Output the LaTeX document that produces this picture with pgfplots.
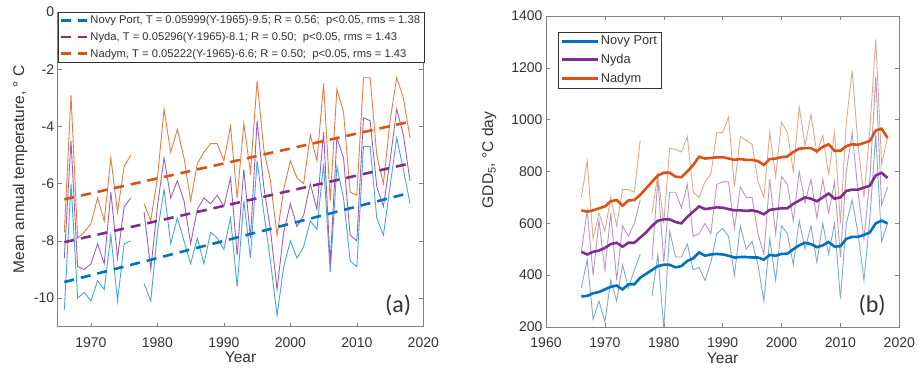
\documentclass[border=0pt]{standalone}
\usepackage{fontspec}
\setmainfont{Liberation Sans}
\newfontfamily\carlito{Carlito}
\usepackage{pgfplots}
\pgfplotsset{compat=1.18}
\usepackage{pgfplotstable}
\definecolor{mblue}{RGB}{0,114,189}
\definecolor{mpurple}{RGB}{126,47,142}
\definecolor{morange}{RGB}{217,83,25}
\definecolor{lblue}{RGB}{70,165,220}
\definecolor{lpurple}{RGB}{160,95,180}
\definecolor{lorange}{RGB}{230,125,65}
\definecolor{tblue}{RGB}{130,170,200}
\definecolor{tpurple}{RGB}{185,150,195}
\definecolor{torange}{RGB}{220,170,145}
\definecolor{axgray}{RGB}{130,130,130}
\definecolor{txgray}{RGB}{50,50,50}

\pgfplotstableread{
year np ny nd
1966 -10.4 -8.6 -7.7
1967 -6.0 -4.5 -2.9
1968 -10.0 -8.9 -7.9
1969 -9.8 -9.0 -7.7
1970 -10.1 -8.8 -7.4
1971 -9.4 -8.1 -6.5
1972 -9.7 -8.8 -7.3
1973 -7.8 -6.3 -5.1
1974 -10.1 -8.6 -7.0
1975 -8.1 -6.8 -5.4
1976 -8.0 -6.5 -5.0
1977 nan nan nan
1978 -9.5 -7.0 -6.7
1979 -10.1 -9.0 -7.3
1980 -7.7 -6.8 -5.8
1981 -6.2 -5.1 -3.4
1982 -8.1 -6.5 -4.9
1983 -7.2 -5.9 -4.1
1984 -8.0 -6.6 -5.1
1985 -8.8 -8.1 -6.6
1986 -7.9 -6.9 -5.3
1987 -8.8 -6.5 -4.9
1988 -7.7 -6.7 -4.6
1989 -7.9 -6.4 -4.6
1990 -8.3 -6.8 -5.2
1991 -7.2 -5.8 -4.0
1992 -9.6 -8.5 -6.5
1993 -6.6 -5.5 -3.9
1994 -8.6 -7.9 -5.6
1995 -5.2 -3.8 -2.4
1996 -7.0 -6.1 -4.8
1997 -8.7 -7.6 -5.9
1998 -10.6 -9.7 -7.8
1999 -8.9 -7.7 -6.2
2000 -8.0 -6.7 -5.2
2001 -8.6 -7.5 -5.8
2002 -8.2 -7.1 -6.0
2003 -7.3 -6.0 -4.3
2004 -7.6 -6.9 -5.2
2005 -5.3 -4.2 -2.5
2006 -9.1 -8.8 -6.6
2007 -5.4 -4.4 -2.7
2008 -6.5 -5.1 -3.5
2009 -8.7 -7.8 -6.3
2010 -8.9 -8.0 -6.4
2011 -4.7 -3.7 -2.3
2012 -4.7 -3.8 -2.3
2013 -7.2 -6.1 -5.0
2014 -7.8 -6.8 -6.0
2015 -6.1 -5.2 -3.8
2016 -4.4 -3.4 -2.3
2017 -5.5 -4.3 -3.0
2018 -6.7 -5.9 -4.4
}\lefttab

\pgfplotstableread{
year npt nyt ndt nps nys nds
1966 350 490 700 318 490 650
1967 460 650 840 320 480 645
1968 230 400 540 330 490 650
1969 300 610 640 335 495 658
1970 220 420 570 345 505 665
1971 380 640 700 355 520 685
1972 300 380 590 360 525 690
1973 440 590 730 345 510 668
1974 350 550 730 365 525 688
1975 420 600 720 365 525 690
1976 480 690 920 390 545 710
1977 nan nan nan 405 565 735
1978 320 460 640 420 590 760
1979 480 770 790 435 610 785
1980 195 450 600 440 615 795
1981 570 720 890 440 615 795
1982 470 720 885 430 605 780
1983 470 660 875 435 600 778
1984 520 750 935 455 625 800
1985 420 550 720 465 645 825
1986 430 560 700 488 665 857
1987 380 600 760 475 655 850
1988 450 560 790 480 658 852
1989 560 750 950 482 662 855
1990 580 760 950 480 660 855
1991 550 760 1010 475 655 850
1992 400 580 740 468 650 845
1993 590 740 935 470 650 848
1994 500 700 920 470 648 845
1995 530 700 905 468 650 845
1996 440 560 760 468 645 840
1997 300 480 700 460 635 825
1998 540 770 950 478 652 848
1999 380 560 780 475 655 850
2000 590 780 990 482 658 855
2001 560 750 950 483 658 858
2002 440 610 800 500 675 875
2003 610 800 1050 515 688 888
2004 500 680 900 525 700 890
2005 590 770 1020 520 695 890
2006 450 620 870 508 685 878
2007 600 770 940 515 700 895
2008 480 640 790 528 715 905
2009 600 760 950 510 695 880
2010 310 470 600 512 700 880
2011 600 800 990 540 725 898
2012 690 950 1190 548 730 905
2013 560 720 900 548 730 903
2014 380 540 700 555 738 910
2015 620 770 960 565 745 918
2016 940 1165 1310 600 785 958
2017 530 670 830 610 795 965
2018 600 740 930 600 775 930
}\righttab

\pgfplotsset{
  mystyle/.style={
    scale only axis,
    axis line style={axgray},
    tick style={axgray, line width=0.5pt},
    tick align=inside,
    major tick length=4pt,
    ticklabel style={font=\fontsize{14}{16}\selectfont, text=txgray},
    xticklabel style={yshift=-7pt},
    label style={font=\fontsize{15.5}{18}\selectfont, text=txgray},
    /pgf/number format/assume math mode=true,
    /pgf/number format/1000 sep={},
    unbounded coords=jump,
  }
}

\begin{document}
\begin{tikzpicture}
\path[use as bounding box] (0,0) rectangle (919pt,374pt);

\begin{axis}[mystyle,
  at={(57.7pt,47.3pt)}, anchor=south west,
  width=365.6pt, height=314.7pt,
  xmin=1965, xmax=2020, ymin=-11, ymax=0,
  xtick={1970,1980,...,2020}, ytick={-10,-8,...,0},
  xlabel={Year},
  ylabel={Mean annual temperature, ° C},
  xlabel style={at={(axis description cs:0.5,-0.1144)}, anchor=base},
  ylabel style={at={(axis description cs:-0.092,0.5)}, anchor=base},
  legend style={at={(0,1)}, anchor=north west, draw=txgray, fill=white,
    font=\fontsize{11.2}{13}\selectfont, text=txgray, row sep=3pt,
    inner xsep=2pt, inner ysep=1.5pt},
  legend cell align=left,
  legend image code/.code={\draw[#1] (0pt,0pt) -- (26pt,0pt);},
]
\addplot[lblue, line width=0.9pt, forget plot] table[x=year, y=np] {\lefttab};
\addplot[lpurple, line width=0.9pt, forget plot] table[x=year, y=ny] {\lefttab};
\addplot[lorange, line width=0.9pt, forget plot] table[x=year, y=nd] {\lefttab};

\addplot[mblue, line width=2.6pt, dash pattern=on 10pt off 7pt] coordinates {(1966,-9.440) (2018,-6.321)};
\addlegendentry{Novy Port, T = 0.05999(Y-1965)-9.5; R = 0.56;\ \ p<0.05, rms = 1.38}
\addplot[mpurple, line width=2.6pt, dash pattern=on 10pt off 7pt] coordinates {(1966,-8.047) (2018,-5.293)};
\addlegendentry{Nyda, T = 0.05296(Y-1965)-8.1; R = 0.50;\ \ p<0.05, rms = 1.43}
\addplot[morange, line width=2.6pt, dash pattern=on 10pt off 7pt] coordinates {(1966,-6.548) (2018,-3.832)};
\addlegendentry{Nadym, T = 0.05222(Y-1965)-6.6; R = 0.50;\ \ p<0.05, rms = 1.43}

\node[font=\carlito\fontsize{24}{26}\selectfont, text=txgray] at (rel axis cs:0.931,0.069) {(a)};
\end{axis}

\begin{axis}[mystyle,
  at={(546pt,47pt)}, anchor=south west,
  width=353.3pt, height=311pt,
  xmin=1960, xmax=2020, ymin=200, ymax=1400,
  xtick={1960,1970,...,2020}, ytick={200,400,...,1400},
  xlabel={Year},
  ylabel={GDD\textsubscript{5}, °C day},
  xlabel style={at={(axis description cs:0.5,-0.1158)}, anchor=base},
  ylabel style={at={(axis description cs:-0.150,0.537)}, anchor=base},
  legend style={at={(0.034,0.949)}, anchor=north west, draw=txgray, fill=white,
    font=\fontsize{12.8}{14}\selectfont, text=txgray, row sep=4pt,
    inner xsep=2pt, inner ysep=2pt},
  legend cell align=left,
  legend image code/.code={\draw[#1] (0pt,0pt) -- (36pt,0pt);},
]
\addplot[tblue, line width=0.9pt, forget plot] table[x=year, y=npt] {\righttab};
\addplot[tpurple, line width=0.9pt, forget plot] table[x=year, y=nyt] {\righttab};
\addplot[torange, line width=0.9pt, forget plot] table[x=year, y=ndt] {\righttab};

\addplot[mblue, line width=2.6pt] table[x=year, y=nps] {\righttab};
\addlegendentry{Novy Port}
\addplot[mpurple, line width=2.6pt] table[x=year, y=nys] {\righttab};
\addlegendentry{Nyda}
\addplot[morange, line width=2.6pt] table[x=year, y=nds] {\righttab};
\addlegendentry{Nadym}

\node[font=\carlito\fontsize{24}{26}\selectfont, text=txgray] at (rel axis cs:0.923,0.071) {(b)};
\end{axis}
\end{tikzpicture}
\end{document}
